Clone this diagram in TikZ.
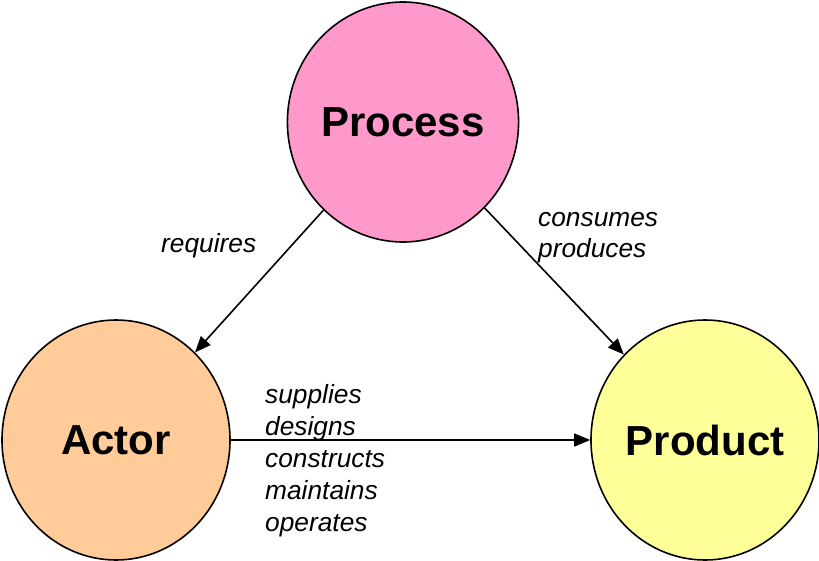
\documentclass[tikz,border=0pt]{standalone}
\usepackage{fontspec}
\setmainfont{Liberation Sans}
\usetikzlibrary{shapes.geometric,arrows.meta}
\definecolor{pinkfill}{HTML}{FF99CC}
\definecolor{peachfill}{HTML}{FFCC99}
\definecolor{yellowfill}{HTML}{FFFF99}
\tikzset{
  blob/.style={ellipse, draw=black, line width=1.6pt, minimum width=228pt, minimum height=240pt, inner sep=0pt,
    font=\bfseries\fontsize{42}{48}\selectfont},
  conn/.style={line width=1.6pt, -{Triangle[length=16pt,width=13pt]}},
  lbl/.style={inner sep=0pt, align=left, font=\itshape\fontsize{26.3}{32}\selectfont}
}
\begin{document}
\begin{tikzpicture}[x=1pt,y=-1pt]
\useasboundingbox (0,0) rectangle (819,560);
\node[blob, fill=pinkfill] (proc) at (403,122) {Process};
\node[blob, fill=peachfill] (actor) at (116,440) {Actor};
\node[blob, fill=yellowfill] (prod) at (705,440) {Product};
\draw[conn] (proc) -- (actor);
\draw[conn] (proc) -- (prod);
\draw[conn] (actor) -- (prod);
\node[lbl, anchor=base west] (lreq) at (161,252) {requires};
\node[lbl, anchor=west, font=\itshape\fontsize{26.3}{31}\selectfont] (lcons) at (538,238) {consumes\\produces};
\node[lbl, anchor=west] (lsup) at (265,461) {supplies\\designs\\constructs\\maintains\\operates};
\end{tikzpicture}
\end{document}
